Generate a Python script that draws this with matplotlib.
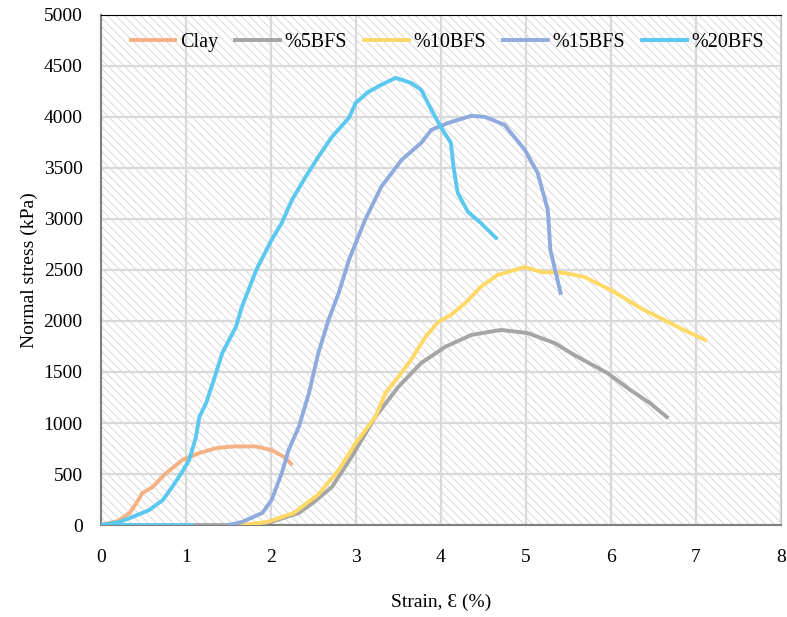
import matplotlib.pyplot as plt
from matplotlib.patches import Rectangle

plt.rcParams['font.family'] = ['Liberation Serif', 'DejaVu Serif']
plt.rcParams['hatch.linewidth'] = 0.7

# strain (%) / normal stress (kPa)
clay_x = [0.0, 0.2, 0.34, 0.42, 0.49, 0.61, 0.77, 0.96, 1.16, 1.36, 1.55, 1.83, 2.01, 2.18, 2.24]
clay_y = [0, 40, 118, 216, 314, 373, 510, 637, 706, 755, 770, 770, 735, 657, 600]

bfs5_x = [0.0, 1.7, 2.0, 2.33, 2.5, 2.72, 2.95, 3.23, 3.5, 3.77, 4.05, 4.36, 4.71, 5.02, 5.34, 5.57, 5.96, 6.23, 6.46, 6.66]
bfs5_y = [0, 0, 30, 118, 220, 373, 667, 1059, 1353, 1588, 1745, 1863, 1912, 1882, 1784, 1667, 1490, 1324, 1196, 1059]

bfs10_x = [1.65, 1.96, 2.27, 2.56, 2.8, 3.0, 3.23, 3.35, 3.5, 3.65, 3.82, 3.97, 4.12, 4.29, 4.47, 4.67,
           4.99, 5.18, 5.46, 5.69, 6.0, 6.39, 6.63, 6.86, 7.11]
bfs10_y = [0, 30, 118, 300, 539, 804, 1059, 1294, 1451, 1618, 1843, 1990, 2059, 2176, 2333, 2451,
           2529, 2480, 2471, 2431, 2304, 2108, 2010, 1912, 1814]

bfs15_x = [1.5, 1.66, 1.9, 2.01, 2.13, 2.21, 2.33, 2.45, 2.56, 2.68, 2.8, 2.92, 3.11, 3.3, 3.54, 3.77,
           3.89, 4.09, 4.36, 4.52, 4.75, 4.99, 5.14, 5.26, 5.29, 5.41]
bfs15_y = [0, 30, 118, 245, 510, 735, 961, 1294, 1686, 2010, 2275, 2598, 2990, 3314, 3578, 3745,
           3873, 3941, 4010, 4000, 3922, 3676, 3451, 3088, 2696, 2275]

bfs20_x = [1.07, 0.0, 0.22, 0.37, 0.57, 0.73, 0.84, 0.95, 1.04, 1.12, 1.16, 1.24, 1.33, 1.43, 1.59, 1.66,
           1.83, 2.01, 2.13, 2.25, 2.41, 2.56, 2.72, 2.92, 3.0, 3.15, 3.3, 3.47, 3.65, 3.77, 3.89, 4.0,
           4.12, 4.15, 4.2, 4.32, 4.47, 4.65]
bfs20_y = [0, 0, 30, 78, 147, 245, 373, 510, 637, 863, 1059, 1196, 1422, 1686, 1941, 2137,
           2500, 2794, 2961, 3186, 3412, 3608, 3804, 3990, 4137, 4245, 4314, 4382, 4333, 4265, 4069, 3902,
           3745, 3510, 3255, 3069, 2961, 2814]

fig = plt.figure(figsize=(7.87, 6.17), dpi=100)
ax = fig.add_axes([0.128, 0.149, 0.864, 0.827])

# hatched plot-area background
ax.add_patch(Rectangle((0, 0), 1, 1, transform=ax.transAxes, facecolor='white',
                       edgecolor='#d9d9d9', linewidth=0, hatch='\\\\\\\\', zorder=0))

ax.grid(True, color='#d9d9d9', linewidth=1.6, zorder=1)
ax.set_axisbelow(True)

lw = 2.8
ax.plot(clay_x, clay_y, color='#f4b183', lw=lw, label='Clay', zorder=3)
ax.plot(bfs5_x, bfs5_y, color='#a5a5a5', lw=lw, label='%5BFS', zorder=3)
ax.plot(bfs10_x, bfs10_y, color='#ffd966', lw=lw, label='%10BFS', zorder=3)
ax.plot(bfs15_x, bfs15_y, color='#8faadc', lw=lw, label='%15BFS', zorder=3)
ax.plot(bfs20_x, bfs20_y, color='#5bc8f0', lw=lw, label='%20BFS', zorder=3)

ax.set_xlim(0, 8)
ax.set_ylim(0, 5000)
ax.set_xticks(range(0, 9))
ax.set_yticks(range(0, 5001, 500))
ax.tick_params(length=0, labelsize=14)
ax.tick_params(axis='x', pad=17)
ax.tick_params(axis='y', pad=13)

for s in ['left', 'bottom']:
    ax.spines[s].set_color('#7f7f7f')
    ax.spines[s].set_linewidth(1.5)
ax.spines['top'].set_color('black')
ax.spines['right'].set_color('#bfbfbf')

ax.set_xlabel('Strain, Ɛ (%)', fontsize=14, labelpad=20)
ax.set_ylabel('Normal stress (kPa)', fontsize=14, labelpad=4)

ax.legend(loc='upper center', ncol=5, frameon=False, fontsize=14.5, handlelength=2.2,
          columnspacing=0.85, handletextpad=0.25, bbox_to_anchor=(0.51, 1.0))

fig.savefig('out.png')
